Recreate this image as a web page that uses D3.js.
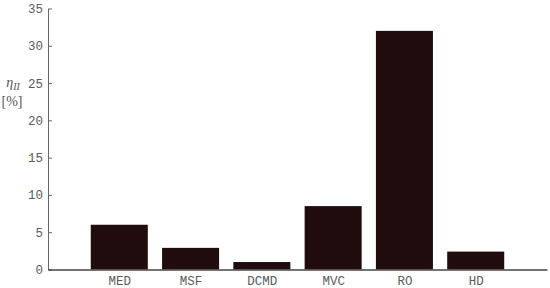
<!DOCTYPE html>
<html>
<head>
<meta charset="utf-8">
<script src="https://cdn.jsdelivr.net/npm/d3@7"></script>
<style>
body{margin:0;background:#fff;}
</style>
</head>
<body>
<script>
//chart data
var categories = ["MED", "MSF", "DCMD", "MVC", "RO", "HD"];
var values = [6.0, 2.9, 1.0, 8.5, 32.0, 2.4];
var yTicks = [0, 5, 10, 15, 20, 25, 30, 35];

var width = 550, height = 288;
var padL = 48, padR = 547, padT = 8.5, padB = 269.5;
var tickFont = "'Liberation Mono', 'Courier New', monospace";

var svg = d3.select("body").append("svg")
	.attr("width", width)
	.attr("height", height);

//x positions: categories at 1..6 on a 0..7 axis
var x = d3.scaleLinear().domain([0, 7]).range([padL, padR]);
var y = d3.scaleLinear().domain([0, 35]).range([padB, padT]);
var barW = (x(1) - x(0)) * 0.8;

//bars
svg.selectAll(".bar")
	.data(values)
	.enter()
	.append("rect")
	.attr("class", "bar")
	.attr("x", function(d, i){ return x(i + 1) - barW / 2; })
	.attr("y", function(d){ return y(d); })
	.attr("width", barW)
	.attr("height", function(d){ return y(0) - y(d); })
	.attr("fill", "#200c0c");

//y axis, ticks pointing inward
var yAxis = svg.append("g")
	.attr("transform", "translate(" + padL + ",0)")
	.call(d3.axisRight(y).tickValues(yTicks).tickSize(4).tickSizeOuter(0));
yAxis.attr("font-family", tickFont).attr("font-size", 12.5);
yAxis.select(".domain").attr("stroke", "#666");
yAxis.selectAll(".tick line").attr("stroke", "#666");
yAxis.selectAll(".tick text")
	.attr("x", -5)
	.attr("fill", "#5a5a5a")
	.attr("text-anchor", "end");

//x axis
var xAxis = svg.append("g")
	.attr("transform", "translate(0," + padB + ")")
	.call(d3.axisBottom(x).tickValues(d3.range(1, 7)).tickSize(0).tickFormat(function(d){ return categories[d - 1]; }));
xAxis.attr("font-family", tickFont).attr("font-size", 12.5);
xAxis.select(".domain").attr("stroke", "#444").attr("stroke-width", 1.5);
xAxis.selectAll(".tick text").attr("fill", "#5a5a5a").attr("dy", "0.71em").attr("y", 7);

//y label
var lab = svg.append("text")
	.attr("x", 13)
	.attr("y", 87)
	.attr("text-anchor", "middle")
	.attr("fill", "#555")
	.style("font-family", "'Liberation Serif', serif")
	.style("font-size", "14px");
lab.append("tspan").style("font-style", "italic").text("η");
lab.append("tspan").attr("dy", 3).style("font-style", "italic").style("font-size", "10px").text("II");
svg.append("text")
	.attr("x", 12)
	.attr("y", 106)
	.attr("text-anchor", "middle")
	.attr("fill", "#555")
	.style("font-family", "'Liberation Serif', serif")
	.style("font-size", "14px")
	.text("[%]");
</script>
</body>
</html>
